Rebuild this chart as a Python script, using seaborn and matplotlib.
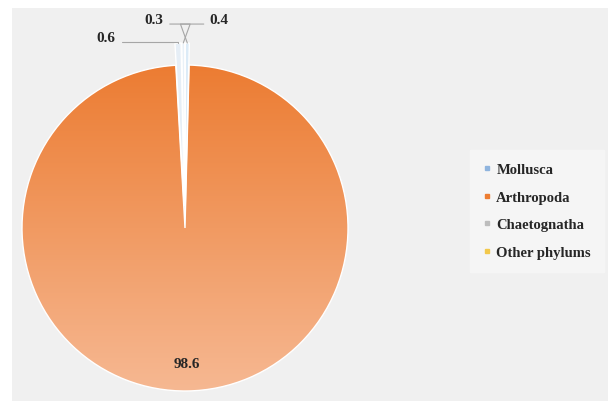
import numpy as np
import matplotlib
matplotlib.use("Agg")
import matplotlib.pyplot as plt
import seaborn as sns
from matplotlib.patches import Rectangle
from matplotlib.lines import Line2D

categories = ["Mollusca", "Arthropoda", "Chaetognatha", "Other phylums"]
values = [0.4, 98.6, 0.6, 0.3]
labels = ["0.4", "98.6", "0.6", "0.3"]
legend_colors = ["#8fb4de", "#ed7d31", "#bdbdbd", "#f2c84b"]
slice_colors = ["#dcebf7", "#f29a5e", "#e6eef6", "#e9f1f8"]
explode = [0.135, 0.0, 0.135, 0.135]

sns.set_theme(style="white")
plt.rcParams["font.family"] = ["Liberation Serif", "DejaVu Serif"]

fig = plt.figure(figsize=(6.14, 4.02), dpi=100)
fig.patch.set_facecolor("white")
fig.patches.append(Rectangle((12 / 614, 0), 596 / 614, 393 / 402, transform=fig.transFigure,
                             facecolor="#f0f0f0", edgecolor="none", zorder=-10))

ax = fig.add_axes([22 / 614, 10 / 402, 326 / 614, 326 / 402])
ax.set_facecolor("none")
wedges, _ = ax.pie(values, colors=slice_colors, startangle=90, counterclock=False,
                   explode=explode, wedgeprops=dict(edgecolor="white", linewidth=1.0))
ax.set_xlim(-1, 1)
ax.set_ylim(-1, 1)
ax.set_aspect("auto")
ax.axis("off")

# gradient fill for the big slice
big = wedges[1]
grad = np.linspace(0, 1, 256).reshape(-1, 1)
cmap = matplotlib.colors.LinearSegmentedColormap.from_list("g", ["#f6b892", "#ec7c32"])
im = ax.imshow(grad, extent=[-1, 1, -1, 1], origin="lower", cmap=cmap, aspect="auto", zorder=0.5)
im.set_clip_path(big)
big.set_facecolor("none")
big.set_zorder(1)
ax.set_xlim(-1, 1)
ax.set_ylim(-1, 1)

# big label
mid = np.deg2rad((big.theta1 + big.theta2) / 2)
ax.text(0.83 * np.cos(mid), 0.83 * np.sin(mid), labels[1], ha="center", va="center",
        fontsize=11, fontweight="bold", color="#262626")

# small labels with leaders
offsets = {0: (32, 17), 2: (-72, -1), 3: (-29, 17)}
angB = {0: 110, 2: 90, 3: 70}
relpos = {0: (0.0, 0.15), 2: (1.0, 0.15), 3: (1.0, 0.15)}
for i, (dx, dy) in offsets.items():
    w = wedges[i]
    cx, cy = w.center
    a = np.deg2rad((w.theta1 + w.theta2) / 2)
    tip = (cx + w.r * np.cos(a), cy + w.r * np.sin(a))
    ax.annotate(labels[i], xy=tip, xytext=(dx, dy), textcoords="offset pixels",
                ha="center", va="bottom", fontsize=11, fontweight="bold", color="#262626",
                annotation_clip=False,
                arrowprops=dict(arrowstyle="-", color="#a6a6a6", lw=0.8, relpos=relpos[i],
                                connectionstyle=f"angle,angleA=0,angleB={angB[i]},rad=0",
                                shrinkA=2, shrinkB=0))

handles = [Line2D([0], [0], marker="s", linestyle="none", markersize=3,
                  markerfacecolor=c, markeredgecolor=c) for c in legend_colors]
leg = fig.legend(handles, categories, loc="center left", bbox_to_anchor=(470 / 614, 1 - 212 / 402),
                 frameon=True, fancybox=False, facecolor="#f7f7f7", edgecolor="#f7f7f7",
                 prop=dict(family=["Liberation Serif"], weight="bold", size=10.5),
                 labelspacing=1.0, handlelength=0.5, handletextpad=0.4, borderpad=0.9,
                 borderaxespad=0)
for t in leg.get_texts():
    t.set_color("#262626")

fig.savefig("out.png", dpi=100)
